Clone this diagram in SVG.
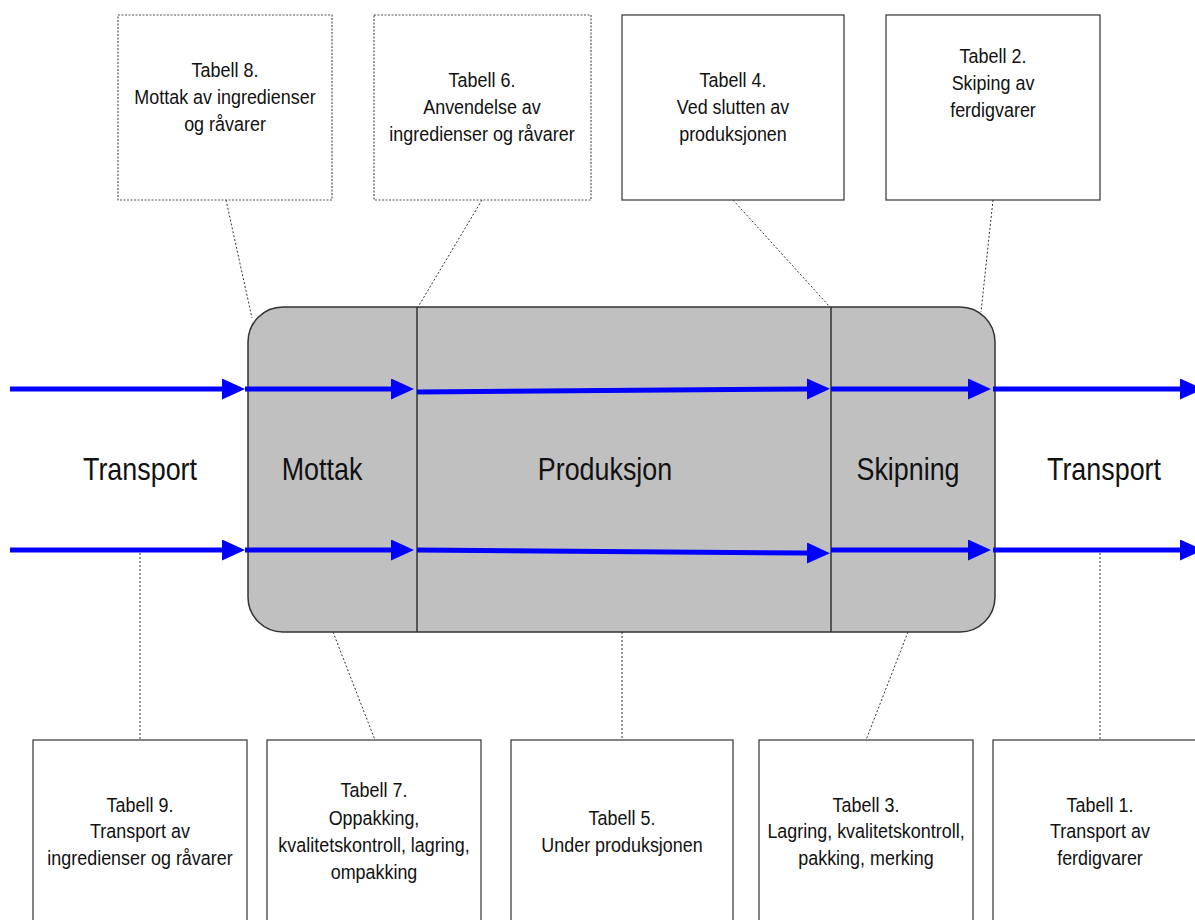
<svg xmlns="http://www.w3.org/2000/svg" width="1195" height="920" viewBox="0 0 1195 920">
<style>
.box{fill:#fff;stroke:#333;stroke-width:1.2}
.dot{fill:#fff;stroke:#555;stroke-width:1.2;stroke-dasharray:2 1.5}
.con{fill:none;stroke:#333;stroke-width:1;stroke-dasharray:2 2}
.flow{fill:none;stroke:#0000ff;stroke-width:5;marker-end:url(#ah)}
.sm{font-family:"Liberation Sans",Arial,sans-serif;font-size:19.5px;fill:#111;text-anchor:middle}
.big{font-family:"Liberation Sans",Arial,sans-serif;font-size:32px;fill:#111;text-anchor:middle}
.div{stroke:#333;stroke-width:1.5}
</style>
<defs>
<marker id="ah" markerUnits="userSpaceOnUse" markerWidth="24" markerHeight="22" refX="0" refY="10.5" orient="auto">
<path d="M0,0 L23,10.5 L0,21 z" fill="#0000ff"/>
</marker>
</defs>
<rect width="1195" height="920" fill="#fff"/>

<g id="stages">
<rect x="248" y="307" width="747" height="325" rx="35" ry="35" fill="#c0c0c0" stroke="#333" stroke-width="1.5"/>
<line class="div" x1="417" y1="307" x2="417" y2="632"/>
<line class="div" x1="831" y1="307" x2="831" y2="632"/>
</g>

<g id="labels">
<text class="big" transform="translate(140 480) scale(0.84 1)">Transport</text>
<text class="big" transform="translate(322 480) scale(0.84 1)">Mottak</text>
<text class="big" transform="translate(605 480) scale(0.84 1)">Produksjon</text>
<text class="big" transform="translate(908 480) scale(0.84 1)">Skipning</text>
<text class="big" transform="translate(1104 480) scale(0.84 1)">Transport</text>
</g>

<g id="connectors">
<line class="con" x1="226" y1="200" x2="252" y2="318"/>
<line class="con" x1="482" y1="200" x2="418" y2="307"/>
<line class="con" x1="733" y1="200" x2="830" y2="307"/>
<line class="con" x1="993" y1="200" x2="981" y2="312"/>
<line class="con" x1="140" y1="553" x2="140" y2="740"/>
<line class="con" x1="333" y1="632" x2="375" y2="740"/>
<line class="con" x1="622" y1="632" x2="622" y2="740"/>
<line class="con" x1="908" y1="632" x2="866" y2="740"/>
<line class="con" x1="1100" y1="553" x2="1100" y2="740"/>
</g>

<g id="flows">
<path class="flow" d="M10,389 L222,389"/>
<path class="flow" d="M245,389 L391,389"/>
<path class="flow" d="M417,392 L807,389"/>
<path class="flow" d="M831,389 L968,389"/>
<path class="flow" d="M993,389 L1180,389"/>
<path class="flow" d="M10,550 L222,550"/>
<path class="flow" d="M245,550 L391,550"/>
<path class="flow" d="M417,550 L807,553"/>
<path class="flow" d="M831,550 L968,550"/>
<path class="flow" d="M993,550 L1180,550"/>
</g>

<g id="t8">
<rect class="dot" x="118" y="15" width="214" height="185"/>
<text class="sm" transform="translate(225 0) scale(0.92 1)"><tspan x="0" y="77">Tabell 8.</tspan><tspan x="0" y="104">Mottak av ingredienser</tspan><tspan x="0" y="131">og råvarer</tspan></text>
</g>
<g id="t6">
<rect class="dot" x="374" y="15" width="217" height="185"/>
<text class="sm" transform="translate(482 0) scale(0.92 1)"><tspan x="0" y="87">Tabell 6.</tspan><tspan x="0" y="114">Anvendelse av</tspan><tspan x="0" y="141">ingredienser og råvarer</tspan></text>
</g>
<g id="t4">
<rect class="box" x="622" y="15" width="222" height="185"/>
<text class="sm" transform="translate(733 0) scale(0.92 1)"><tspan x="0" y="87">Tabell 4.</tspan><tspan x="0" y="114">Ved slutten av</tspan><tspan x="0" y="141">produksjonen</tspan></text>
</g>
<g id="t2">
<rect class="box" x="886" y="15" width="214" height="185"/>
<text class="sm" transform="translate(993 0) scale(0.92 1)"><tspan x="0" y="63">Tabell 2.</tspan><tspan x="0" y="90">Skiping av</tspan><tspan x="0" y="117">ferdigvarer</tspan></text>
</g>

<g id="t9">
<rect class="box" x="33" y="740" width="214" height="200"/>
<text class="sm" transform="translate(140 0) scale(0.92 1)"><tspan x="0" y="812">Tabell 9.</tspan><tspan x="0" y="838">Transport av</tspan><tspan x="0" y="865">ingredienser og råvarer</tspan></text>
</g>
<g id="t7">
<rect class="box" x="267" y="740" width="214" height="200"/>
<text class="sm" transform="translate(374 0) scale(0.92 1)"><tspan x="0" y="797">Tabell 7.</tspan><tspan x="0" y="825">Oppakking,</tspan><tspan x="0" y="852">kvalitetskontroll, lagring,</tspan><tspan x="0" y="879">ompakking</tspan></text>
</g>
<g id="t5">
<rect class="box" x="511" y="740" width="222" height="200"/>
<text class="sm" transform="translate(622 0) scale(0.92 1)"><tspan x="0" y="825">Tabell 5.</tspan><tspan x="0" y="852">Under produksjonen</tspan></text>
</g>
<g id="t3">
<rect class="box" x="759" y="740" width="214" height="200"/>
<text class="sm" transform="translate(866 0) scale(0.92 1)"><tspan x="0" y="812">Tabell 3.</tspan><tspan x="0" y="838">Lagring, kvalitetskontroll,</tspan><tspan x="0" y="865">pakking, merking</tspan></text>
</g>
<g id="t1">
<rect class="box" x="993" y="740" width="214" height="200"/>
<text class="sm" transform="translate(1100 0) scale(0.92 1)"><tspan x="0" y="812">Tabell 1.</tspan><tspan x="0" y="838">Transport av</tspan><tspan x="0" y="865">ferdigvarer</tspan></text>
</g>
</svg>
